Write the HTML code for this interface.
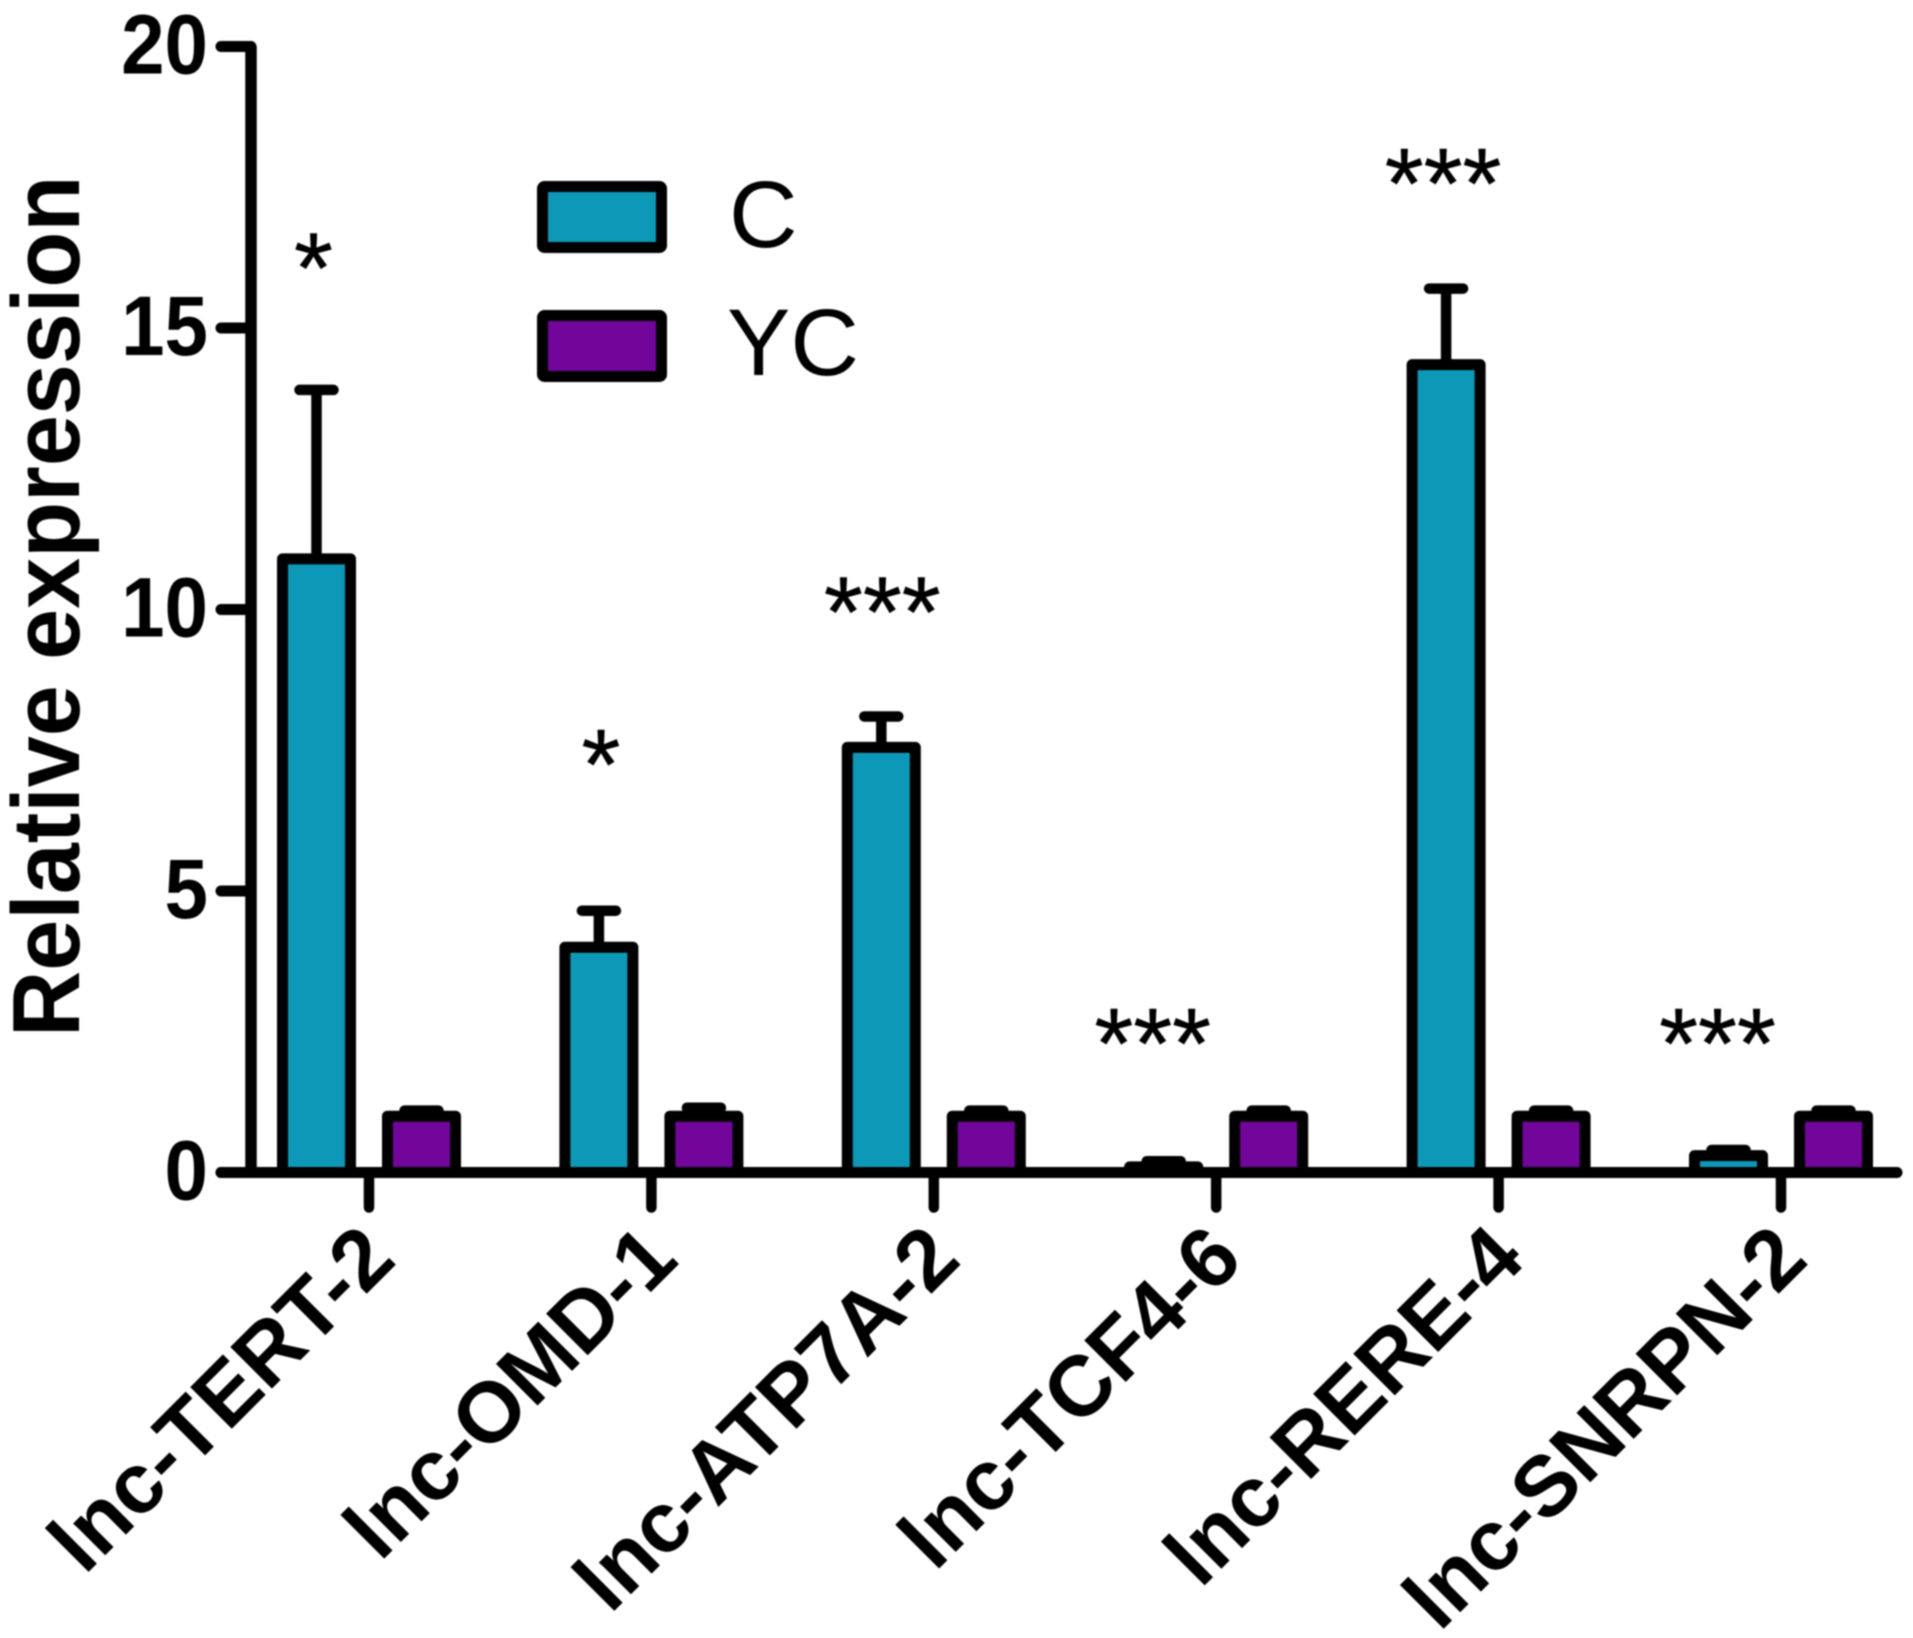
<!DOCTYPE html>
<html lang="en">
<head>
<meta charset="utf-8">
<title>Relative expression chart</title>
<style>
html,body{margin:0;padding:0;background:#fff;width:1913px;height:1638px;overflow:hidden}
svg{display:block;filter:blur(.7px)}
text{font-family:"Liberation Sans",sans-serif;fill:#000}
</style>
</head>
<body>
<svg id="chart" xmlns="http://www.w3.org/2000/svg" width="1913" height="1638" viewBox="0 0 1913 1638">
  <rect width="1913" height="1638" fill="#fff"/>
  <text transform="translate(79 1037) rotate(-90) scale(1 1.04)" font-size="91.7" font-weight="700">Relative expression</text>
  <g>
    <rect x="542.5" y="186.5" width="119" height="61" rx="2" fill="#0e98b8" stroke="#000" stroke-width="11" stroke-linejoin="round"/>
    <text x="729" y="247" font-size="95">C</text>
    <rect x="542.5" y="315.5" width="119" height="61" rx="2" fill="#72059a" stroke="#000" stroke-width="11" stroke-linejoin="round"/>
    <text x="727" y="375" font-size="95">YC</text>
  </g>
  <g id="marks"></g>
  <g id="axes"></g>
</svg>
<script>
const categories = ["lnc-TERT-2", "lnc-OMD-1", "lnc-ATP7A-2", "lnc-TCF4-6", "lnc-RERE-4", "lnc-SNRPN-2"];
const cValues = [10.9, 4.0, 7.55, 0.1, 14.35, 0.3];
const cErrorTops = [13.9, 4.65, 8.1, 0.2, 15.7, 0.4];
const ycValues = [1.0, 1.0, 1.0, 1.0, 1.0, 1.0];
const ycErrorTops = [1.1, 1.15, 1.1, 1.1, 1.1, 1.1];
const sigLabels = ["*", "*", "***", "***", "***", "***"];
const sigLevels = [16.45, 7.63, 10.34, 2.67, 17.95, 2.67];
const yTicks = [0, 5, 10, 15, 20];

const SVG_NS = "http://www.w3.org/2000/svg";
const marks = document.getElementById("marks");
const axes = document.getElementById("axes");
const BLACK = "#000";
const yScale = function (v) { return 1172.5 - v * 56.3; };
const xScale = function (i) { return 369 + i * 282.4; };
const BAR_OFFSET = 52.5, BAR_W = 68, STROKE = 11, CAP_HALF = 17;

function make(tag, attrs, parent) {
  const el = document.createElementNS(SVG_NS, tag);
  for (const k in attrs) el.setAttribute(k, attrs[k]);
  parent.appendChild(el);
  return el;
}

function drawBar(cx, value, errTop, fill, parent) {
  const stem = make("line", {x1: cx, x2: cx, y1: yScale(value), y2: yScale(errTop), stroke: BLACK, "stroke-width": 10.5}, parent);
  
  
  const cap = make("line", {x1: cx - CAP_HALF, x2: cx + CAP_HALF, y1: yScale(errTop), y2: yScale(errTop), stroke: BLACK, "stroke-width": 10.5, "stroke-linecap": "round"}, parent);
  
  
  const bar = make("rect", {x: cx - BAR_W / 2, y: yScale(value), width: BAR_W, height: Math.max(0, yScale(0) - yScale(value)), fill: fill, stroke: BLACK, "stroke-width": STROKE, "stroke-linejoin": "round"}, parent);
  
  
}

function sigCenter(i) {
  const nudge = [-3, 2, 1, -11, -3, -11];
  return xScale(i) - BAR_OFFSET + nudge[i];
}

categories.forEach(function (name, i) {
  const center = xScale(i);
  drawBar(center - BAR_OFFSET, cValues[i], cErrorTops[i], "#0e98b8", marks);
  drawBar(center + BAR_OFFSET, ycValues[i], ycErrorTops[i], "#72059a", marks);

  const sig = make("text", {x: sigCenter(i), y: yScale(sigLevels[i]) + 56, "font-size": 100, "text-anchor": "middle", stroke: "#000", "stroke-width": 0.5}, marks);
  sig.textContent = sigLabels[i];
  
  

  const tick = make("line", {x1: center, x2: center, y1: yScale(0), y2: yScale(0) + 35, stroke: BLACK, "stroke-width": 10.5, "stroke-linecap": "round"}, axes);
  
  

  const label = make("text", {transform: "translate(" + (center + 29) + " " + (yScale(0) + 90) + ") rotate(-45)", "font-size": 85.5, "font-weight": 700, "text-anchor": "end", "letter-spacing": "-0.3"}, axes);
  label.textContent = name;
  
  
});

const yLine = make("line", {x1: 251, x2: 251, y1: yScale(20), y2: yScale(0), stroke: BLACK, "stroke-width": 11.5}, axes);



const xLine = make("line", {x1: 221, x2: 1897, y1: yScale(0), y2: yScale(0), stroke: BLACK, "stroke-width": 11, "stroke-linecap": "round"}, axes);



yTicks.forEach(function (t) {
  const tick = make("line", {x1: 221, x2: 251, y1: yScale(t), y2: yScale(t), stroke: BLACK, "stroke-width": 11, "stroke-linecap": "round"}, axes);
  
  
  const label = make("text", {transform: "translate(208 " + (yScale(t) + 27) + ") scale(.93 1)", "font-size": 84, "font-weight": 700, "text-anchor": "end"}, axes);
  label.textContent = String(t);
  
  
});
</script>
</body>
</html>
